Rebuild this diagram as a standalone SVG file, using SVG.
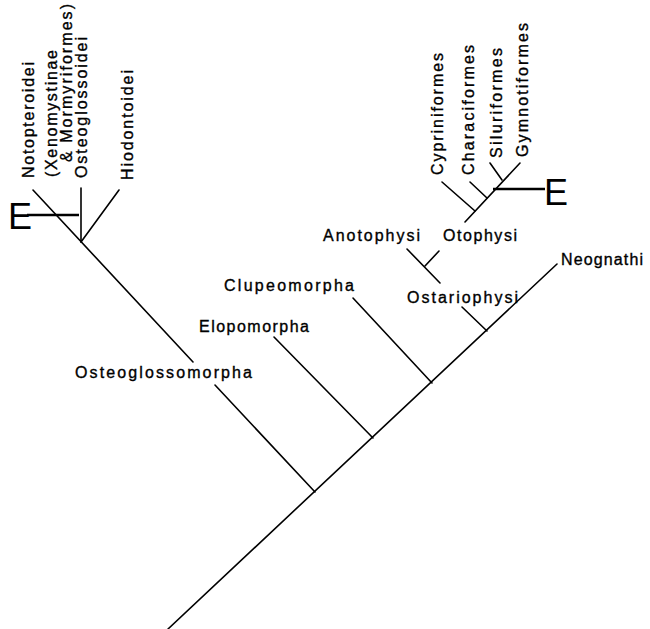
<svg xmlns="http://www.w3.org/2000/svg" width="650" height="629" viewBox="0 0 650 629">
<style>
.l{stroke:#000;stroke-width:1.6;fill:none;stroke-linecap:round}
.b{stroke:#000;stroke-width:2.6;fill:none}
text{font-family:"Liberation Sans",Arial,sans-serif;font-size:16px;fill:#000;stroke:#000;stroke-width:0.35}
.e{font-size:36px;stroke-width:0}
</style>
<rect width="650" height="629" fill="#fff"/>
<g id="connectors">
<line class="l" x1="168" y1="629" x2="557" y2="264"/>
<line class="l" x1="315" y1="492" x2="215" y2="385"/>
<line class="l" x1="193" y1="362" x2="33" y2="190"/>
<line class="l" x1="81" y1="242" x2="81" y2="188"/>
<line class="l" x1="81" y1="242" x2="119" y2="190"/>
<line class="l" x1="373" y1="438" x2="274" y2="337"/>
<line class="l" x1="432" y1="383" x2="353" y2="298"/>
<line class="l" x1="487" y1="331" x2="462" y2="307"/>
<line class="l" x1="440" y1="283" x2="407" y2="249"/>
<line class="l" x1="425" y1="266" x2="439" y2="251"/>
<line class="l" x1="465" y1="222" x2="520" y2="163"/>
<line class="l" x1="475" y1="211" x2="442" y2="182"/>
<line class="l" x1="487" y1="198" x2="470" y2="182"/>
<line class="l" x1="502" y1="180" x2="490" y2="163"/>
<line class="b" x1="27" y1="215" x2="79" y2="215"/>
<line class="b" x1="493" y1="189" x2="545" y2="189"/>
</g>
<g id="E-left"><text class="e" x="8" y="229">E</text></g>
<g id="E-right"><text class="e" x="544" y="205">E</text></g>
<g id="Notopteroidei"><text transform="translate(34,178) rotate(-90)" textLength="116" lengthAdjust="spacing">Notopteroidei</text></g>
<g id="Xenomystinae"><text transform="translate(57,177) rotate(-90)" textLength="127" lengthAdjust="spacing">(Xenomystinae</text>
<text transform="translate(72,162) rotate(-90)" textLength="158" lengthAdjust="spacing">&amp; Mormyriformes)</text></g>
<g id="Osteoglossoidei"><text transform="translate(87,178) rotate(-90)" textLength="141" lengthAdjust="spacing">Osteoglossoidei</text></g>
<g id="Hiodontoidei"><text transform="translate(133,180) rotate(-90)" textLength="110" lengthAdjust="spacing">Hiodontoidei</text></g>
<g id="Cypriniformes"><text transform="translate(443,175) rotate(-90)" textLength="122" lengthAdjust="spacing">Cypriniformes</text></g>
<g id="Characiformes"><text transform="translate(474,175) rotate(-90)" textLength="130" lengthAdjust="spacing">Characiformes</text></g>
<g id="Siluriformes"><text transform="translate(502,158) rotate(-90)" textLength="110" lengthAdjust="spacing">Siluriformes</text></g>
<g id="Gymnotiformes"><text transform="translate(528,157) rotate(-90)" textLength="134" lengthAdjust="spacing">Gymnotiformes</text></g>
<g id="Anotophysi"><text x="323" y="241" textLength="97" lengthAdjust="spacing">Anotophysi</text></g>
<g id="Otophysi"><text x="443" y="241" textLength="74" lengthAdjust="spacing">Otophysi</text></g>
<g id="Ostariophysi"><text x="407" y="303" textLength="111" lengthAdjust="spacing">Ostariophysi</text></g>
<g id="Neognathi"><text x="561" y="265" textLength="82" lengthAdjust="spacing">Neognathi</text></g>
<g id="Clupeomorpha"><text x="224" y="291" textLength="130" lengthAdjust="spacing">Clupeomorpha</text></g>
<g id="Elopomorpha"><text x="199" y="332" textLength="110" lengthAdjust="spacing">Elopomorpha</text></g>
<g id="Osteoglossomorpha"><text x="75" y="378" textLength="177" lengthAdjust="spacing">Osteoglossomorpha</text></g>
</svg>
